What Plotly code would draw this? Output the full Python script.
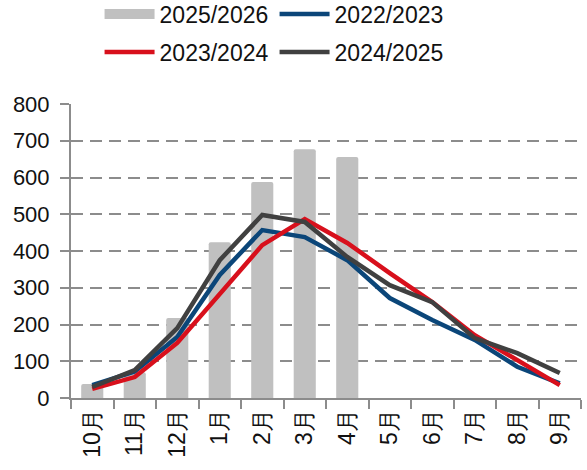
import plotly.graph_objects as go

months = ["10月", "11月", "12月", "1月", "2月", "3月", "4月", "5月", "6月", "7月", "8月", "9月"]

s2025_2026 = [38, 70, 218, 424, 588, 677, 656, None, None, None, None, None]
s2022_2023 = [35, 72, 166, 335, 457, 438, 375, 272, 212, 158, 85, 40]
s2023_2024 = [25, 57, 150, 285, 416, 487, 422, 340, 261, 171, 103, 35]
s2024_2025 = [30, 76, 190, 375, 498, 479, 384, 307, 261, 163, 122, 68]

BAR_COLOR = "#c0c0c0"

fig = go.Figure()
fig.add_trace(go.Bar(x=months, y=s2025_2026, name="2025/2026", showlegend=False,
                     marker=dict(color=BAR_COLOR, line=dict(width=0), cornerradius=2)))
# legend row 1 (wide swatch for the bars comes from an empty line trace)
fig.add_trace(go.Scatter(x=[None], y=[None], name="2025/2026", mode="lines", legend="legend",
                         line=dict(color=BAR_COLOR, width=20)))
fig.add_trace(go.Scatter(x=months, y=s2022_2023, name="2022/2023", mode="lines", legend="legend",
                         line=dict(color="#0b4679", width=4.5)))
# legend row 2
fig.add_trace(go.Scatter(x=months, y=s2023_2024, name="2023/2024", mode="lines", legend="legend2",
                         line=dict(color="#d8101c", width=4.5)))
fig.add_trace(go.Scatter(x=months, y=s2024_2025, name="2024/2025", mode="lines", legend="legend2",
                         line=dict(color="#404040", width=4.5)))

top, bottom = 104, 72
plot_h = 470 - top - bottom
leg_common = dict(orientation="h", xanchor="left", yanchor="middle",
                  entrywidth=110, entrywidthmode="pixels", itemwidth=50,
                  font=dict(size=23), bgcolor="rgba(0,0,0,0)")

fig.update_layout(
    width=587, height=470,
    margin=dict(l=71, r=6, t=top, b=bottom, autoexpand=False),
    plot_bgcolor="white", paper_bgcolor="white",
    font=dict(family="Liberation Sans, Arial, sans-serif", size=21, color="#111111"),
    bargap=0.48,
    legend=dict(leg_common, x=0.056, y=1 + (top - 14) / plot_h),
    legend2=dict(leg_common, x=0.056, y=1 + (top - 52) / plot_h),
)
fig.update_xaxes(
    type="category", showline=True, linecolor="#8c8c8c", linewidth=2,
    ticks="outside", tickson="boundaries", ticklen=9, tickcolor="#8c8c8c", tickwidth=2,
    tickangle=-90, showgrid=False, tickfont=dict(size=23), automargin=False,
)
fig.update_yaxes(
    range=[0, 800], dtick=100, showline=True, linecolor="#8c8c8c", linewidth=2,
    ticks="outside", ticklen=9, tickcolor="#8c8c8c", tickwidth=2, ticklabelstandoff=6,
    showgrid=True, gridcolor="#8c8c8c", gridwidth=2, griddash="12px,7px",
    zeroline=False, tickfont=dict(size=22), automargin=False,
)

# drop the default body margin so the figure fills the window
fig.write_html("out.html", config={"displayModeBar": False},
               post_script="document.body.style.margin='0px';")
